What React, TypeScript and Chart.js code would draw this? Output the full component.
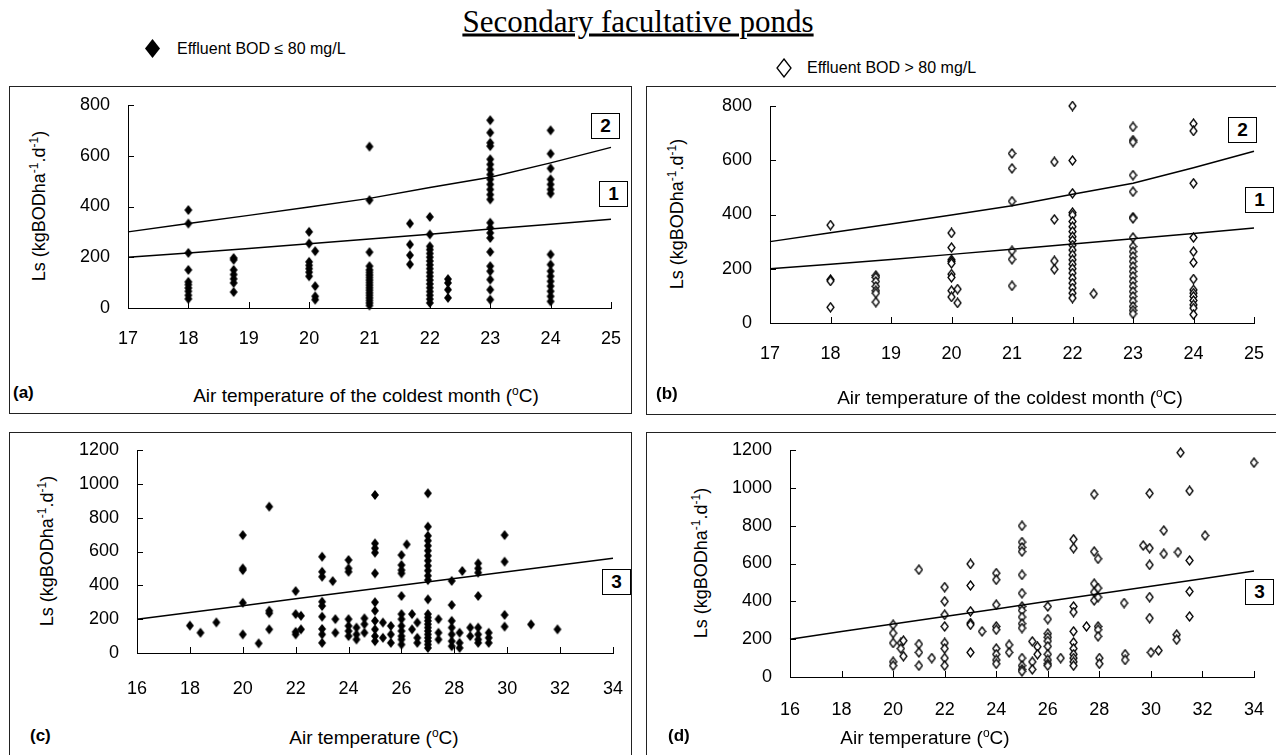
import React, { useEffect, useRef } from "react";
import { Chart, registerables } from "chart.js";
Chart.register(...registerables);

// ---------- design lines ----------
const coldTemps = [17, 18, 19, 20, 21, 22, 23, 24, 25];
const line1Ls = [200, 217, 234, 253, 272, 291, 311, 330, 350];
const line2Ls = [300, 333, 365, 398, 432, 475, 515, 572, 633];
const airTemps = [16, 18, 20, 22, 24, 26, 28, 30, 32, 34];
const line3Ls = [200, 240, 280, 320, 360, 400, 440, 480, 520, 560];

// ---------- (a) effluent BOD <= 80, coldest month ----------
const aTemps = [18, 18.75, 20, 20.1, 21, 21.67, 22, 22.3, 23, 24];
const aLs = [
  [386, 333, 217, 150, 103, 92, 79, 66, 50, 36],
  [197, 190, 150, 132, 115, 99, 63],
  [300, 254, 182, 168, 155, 141, 125],
  [224, 86, 46, 33],
  [636, 425, 220, 165, 150, 140, 130, 120, 110, 100, 90, 80, 70, 60, 50, 40, 30, 20, 10],
  [333, 250, 208, 172],
  [359, 290, 243, 230, 215, 200, 185, 170, 155, 140, 125, 110, 95, 80, 65, 50, 35, 20],
  [114, 99, 72, 40],
  [740, 691, 651, 638, 586, 566, 546, 526, 507, 487, 467, 447, 428, 336, 316, 296, 276, 221, 165, 145, 112, 72, 33],
  [700, 608, 550, 507, 487, 467, 451, 211, 171, 145, 125, 105, 86, 66, 46, 26],
];

// ---------- (b) effluent BOD > 80, coldest month ----------
const bTemps = [18, 18.75, 20, 20.1, 21, 21.7, 22, 22.35, 23, 24];
const bLs = [
  [361, 160, 155, 58],
  [175, 168, 153, 135, 119, 110, 77],
  [332, 278, 233, 227, 220, 180, 168, 119, 96],
  [125, 74],
  [625, 570, 449, 266, 235, 137],
  [594, 382, 229, 198],
  [800, 599, 478, 407, 398, 374, 355, 337, 318, 304, 287, 269, 251, 233, 217, 200, 184, 165, 147, 129, 110, 92],
  [108],
  [723, 674, 667, 545, 484, 390, 386, 315, 282, 263, 245, 227, 208, 190, 172, 153, 135, 116, 98, 80, 61, 47, 34],
  [735, 708, 515, 315, 263, 223, 162, 122, 110, 98, 83, 67, 55, 31],
];

// ---------- (c) effluent BOD <= 80, air temperature ----------
const cTemps = [18, 18.4, 19, 20, 20.6, 21, 22, 22.2, 23, 23.4, 23.5, 24, 24.3, 24.6, 25, 25.3, 25.6, 26, 26.2, 26.4, 26.6, 27, 27.4, 27.9, 28.2, 28.3, 28.6, 28.9, 29.3, 29.9, 30.9, 31.9];
const cLs = [
  [162], [120], [181],
  [697, 500, 490, 297, 110],
  [57],
  [865, 250, 235, 140],
  [366, 230, 125, 110],
  [220, 140],
  [569, 480, 451, 303, 278, 215, 142, 110, 60],
  [425],
  [200, 120],
  [550, 500, 480, 200, 160, 130, 100],
  [150, 110, 80],
  [205, 170, 120],
  [934, 648, 619, 593, 471, 300, 250, 190, 140, 100, 70],
  [180, 90],
  [160, 110, 60],
  [579, 520, 490, 471, 337, 230, 200, 160, 130, 100, 80, 50],
  [642],
  [230, 140],
  [180, 90, 60],
  [944, 747, 693, 664, 634, 605, 575, 546, 516, 487, 457, 431, 317, 230, 210, 190, 170, 150, 130, 110, 90, 70, 50, 30],
  [200, 120, 80],
  [426, 284, 190, 150, 110, 70, 40],
  [120, 60, 30],
  [485],
  [150, 100],
  [530, 500, 475, 337, 150, 110, 80, 60],
  [120, 90, 60],
  [697, 540, 225, 156],
  [169],
  [140],
];

// ---------- (d) effluent BOD > 80, air temperature ----------
const dTemps = [20, 20.3, 20.4, 21, 21.5, 22, 23, 23.45, 24, 24.5, 25, 25.4, 25.6, 26, 26.5, 27, 27.5, 27.8, 27.95, 28, 28.96, 29, 29.7, 29.95, 30, 30.3, 30.5, 31, 31.05, 31.15, 31.5, 32.1, 34];
const dLs = [
  [276, 232, 180, 80, 60],
  [180, 150],
  [192, 110],
  [567, 174, 130, 60],
  [100],
  [475, 400, 329, 267, 180, 150, 100, 60],
  [598, 484, 347, 285, 276, 130],
  [241],
  [549, 514, 382, 267, 250, 150, 120, 90, 70],
  [170, 130],
  [799, 713, 685, 663, 540, 443, 373, 352, 317, 282, 259, 100, 60, 40, 30],
  [188, 80, 40],
  [160, 120],
  [373, 306, 229, 210, 190, 162, 120, 90, 70, 60],
  [100],
  [728, 681, 373, 343, 241, 183, 150, 120, 100, 80, 60],
  [267],
  [966, 663, 493, 449, 405],
  [625, 470, 422, 267, 250, 215],
  [100, 70],
  [391],
  [120, 90],
  [695],
  [971, 681, 593, 422, 311],
  [130],
  [140],
  [774, 651],
  [224, 197],
  [660],
  [1186],
  [984, 616, 452, 320],
  [748],
  [1133],
];

const xTicksCold = [17, 18, 19, 20, 21, 22, 23, 24, 25];
const yTicksAB = [0, 200, 400, 600, 800];
const xTicksAir = [16, 18, 20, 22, 24, 26, 28, 30, 32, 34];
const yTicksCD = [0, 200, 400, 600, 800, 1000, 1200];

const SANS = "'Liberation Sans', Arial, sans-serif";

function toPoints(temps: number[], ls: number[][]) {
  return temps.flatMap((t, i) => ls[i].map((v) => ({ x: t, y: v })));
}

function diamond(w: number, h: number, filled: boolean) {
  const c = document.createElement("canvas");
  c.width = w + 2;
  c.height = h + 2;
  const g = c.getContext("2d")!;
  g.beginPath();
  g.moveTo((w + 2) / 2, 1);
  g.lineTo(w + 1, (h + 2) / 2);
  g.lineTo((w + 2) / 2, h + 1);
  g.lineTo(1, (h + 2) / 2);
  g.closePath();
  if (filled) {
    g.fillStyle = "#000";
    g.fill();
  } else {
    g.fillStyle = "#fff";
    g.fill();
    g.strokeStyle = "#000";
    g.lineWidth = 1.3;
    g.stroke();
  }
  return c;
}

const innerTicks = {
  id: "innerTicks",
  afterDraw(chart: any) {
    const { ctx, chartArea, scales } = chart;
    ctx.save();
    ctx.strokeStyle = "#000";
    ctx.lineWidth = 1;
    scales.x.ticks.forEach((t: any) => {
      const px = Math.round(scales.x.getPixelForValue(t.value)) + 0.5;
      ctx.beginPath();
      ctx.moveTo(px, chartArea.bottom);
      ctx.lineTo(px, chartArea.bottom - 6);
      ctx.stroke();
    });
    scales.y.ticks.forEach((t: any) => {
      const py = Math.round(scales.y.getPixelForValue(t.value)) + 0.5;
      ctx.beginPath();
      ctx.moveTo(chartArea.left, py);
      ctx.lineTo(chartArea.left + 6, py);
      ctx.stroke();
    });
    ctx.restore();
  },
};

type PanelProps = {
  plotLeft: number;
  plotTop: number;
  plotW: number;
  plotH: number;
  xPad: number;
  xTicks: number[];
  yTicks: number[];
  lines: { x: number[]; y: number[] }[];
  temps: number[];
  ls: number[][];
  filled: boolean;
};

const YW = 70;
const PT = 14;
const PR = 16;
const XH = 70;

function Panel(p: PanelProps) {
  const ref = useRef<HTMLCanvasElement>(null);
  useEffect(() => {
    const marker = p.filled ? diamond(8, 10, true) : diamond(7, 9, false);
    const lineSets = p.lines.map((l) => ({
      data: l.x.map((x, i) => ({ x, y: l.y[i] })),
      showLine: true,
      borderColor: "#000",
      borderWidth: 1.5,
      pointRadius: 0,
      clip: false as any,
    }));
    const chart = new Chart(ref.current!, {
      type: "scatter",
      data: {
        datasets: [
          ...lineSets,
          {
            data: toPoints(p.temps, p.ls),
            pointStyle: marker as any,
            pointRadius: 5,
            clip: false as any,
          },
        ] as any,
      },
      options: {
        animation: false,
        responsive: false,
        events: [],
        layout: { padding: { left: 0, top: PT, right: PR, bottom: 0 } },
        plugins: { legend: { display: false }, tooltip: { enabled: false } },
        scales: {
          x: {
            type: "linear",
            min: p.xTicks[0],
            max: p.xTicks[p.xTicks.length - 1],
            afterBuildTicks: (s: any) => {
              s.ticks = p.xTicks.map((v) => ({ value: v }));
            },
            afterFit: (s: any) => {
              s.height = XH;
              s.paddingLeft = 0;
              s.paddingRight = 0;
            },
            grid: { display: true, drawOnChartArea: false, drawTicks: false },
            border: { display: true, color: "#000", width: 1 },
            ticks: {
              autoSkip: false,
              maxRotation: 0,
              padding: p.xPad,
              color: "#000",
              font: { family: SANS, size: 18 },
              callback: (v: any) => String(v),
            },
          },
          y: {
            type: "linear",
            min: p.yTicks[0],
            max: p.yTicks[p.yTicks.length - 1],
            afterBuildTicks: (s: any) => {
              s.ticks = p.yTicks.map((v) => ({ value: v }));
            },
            afterFit: (s: any) => {
              s.width = YW;
              s.paddingTop = 0;
              s.paddingBottom = 0;
            },
            grid: { display: true, drawOnChartArea: false, drawTicks: false },
            border: { display: true, color: "#000", width: 1 },
            ticks: {
              padding: 18,
              color: "#000",
              font: { family: SANS, size: 18 },
              callback: (v: any) => String(v),
            },
          },
        },
      } as any,
      plugins: [innerTicks],
    });
    return () => chart.destroy();
  }, []);
  return (
    <canvas
      ref={ref}
      width={p.plotW + YW + PR}
      height={p.plotH + PT + XH}
      style={{ position: "absolute", left: p.plotLeft - YW, top: p.plotTop - PT }}
    />
  );
}

function Txt(props: { x: number; y: number; size: number; bold?: boolean; children: any; anchor?: "left" | "center" }) {
  const tx = props.anchor === "left" ? "0" : "-50%";
  return (
    <div
      style={{
        position: "absolute",
        left: props.x,
        top: props.y,
        transform: `translate(${tx}, -50%)`,
        fontFamily: SANS,
        fontSize: props.size,
        fontWeight: props.bold ? "bold" : "normal",
        whiteSpace: "nowrap",
        lineHeight: 1,
        color: "#000",
      }}
    >
      {props.children}
    </div>
  );
}

function YTitle(props: { x: number; y: number }) {
  return (
    <div
      style={{
        position: "absolute",
        left: props.x,
        top: props.y,
        transform: "translate(-50%, -50%) rotate(-90deg)",
        fontFamily: SANS,
        fontSize: 18,
        whiteSpace: "nowrap",
        lineHeight: 1,
      }}
    >
      Ls (kgBODha<sup style={{ fontSize: 12 }}>-1</sup>.d<sup style={{ fontSize: 12 }}>-1</sup>)
    </div>
  );
}

function NumBox(props: { x: number; y: number; n: string }) {
  return (
    <div
      style={{
        position: "absolute",
        left: props.x - 14,
        top: props.y - 13,
        width: 27,
        height: 24,
        border: "1.5px solid #000",
        background: "#fff",
        fontFamily: SANS,
        fontWeight: "bold",
        fontSize: 19,
        lineHeight: "24px",
        textAlign: "center",
      }}
    >
      {props.n}
    </div>
  );
}

function Frame(props: { l: number; t: number; w: number; h: number }) {
  return (
    <div
      style={{
        position: "absolute",
        left: props.l,
        top: props.t,
        width: props.w,
        height: props.h,
        border: "1.3px solid #222",
        boxSizing: "border-box",
      }}
    />
  );
}

const degC = (
  <>
    (<sup style={{ fontSize: 12 }}>o</sup>C)
  </>
);

export default function App() {
  const linesAB = [
    { x: coldTemps, y: line1Ls },
    { x: coldTemps, y: line2Ls },
  ];
  const linesCD = [{ x: airTemps, y: line3Ls }];
  return (
    <div
      style={{
        position: "fixed",
        left: 0,
        top: 0,
        width: 1276,
        height: 755,
        background: "#fff",
        overflow: "hidden",
      }}
    >
      <div
        style={{
          position: "absolute",
          left: 638,
          top: 21,
          transform: "translate(-50%, -50%)",
          fontFamily: "'Liberation Serif', 'Times New Roman', serif",
          fontSize: 31,
          textDecoration: "underline",
          whiteSpace: "nowrap",
          lineHeight: 1,
        }}
      >
        Secondary facultative ponds
      </div>

      <svg style={{ position: "absolute", left: 145, top: 39 }} width="15" height="19">
        <polygon points="7.5,0 15,9.5 7.5,19 0,9.5" fill="#000" />
      </svg>
      <Txt x={177} y={49} size={16} anchor="left">
        Effluent BOD ≤ 80 mg/L
      </Txt>
      <svg style={{ position: "absolute", left: 776, top: 58 }} width="16" height="20">
        <polygon points="8,1 15,10 8,19 1,10" fill="#fff" stroke="#000" strokeWidth="1.3" />
      </svg>
      <Txt x={807} y={68} size={16} anchor="left">
        Effluent BOD &gt; 80 mg/L
      </Txt>

      <Frame l={9} t={86} w={623} h={328} />
      <Frame l={646} t={86} w={640} h={329} />
      <Frame l={9} t={432} w={623} h={400} />
      <Frame l={646} t={432} w={640} h={400} />

      <Panel plotLeft={128} plotTop={105} plotW={483} plotH={203} xPad={20} xTicks={xTicksCold} yTicks={yTicksAB} lines={linesAB} temps={aTemps} ls={aLs} filled={true} />
      <Panel plotLeft={770} plotTop={106} plotW={484} plotH={217} xPad={20} xTicks={xTicksCold} yTicks={yTicksAB} lines={linesAB} temps={bTemps} ls={bLs} filled={false} />
      <Panel plotLeft={137} plotTop={450} plotW={476} plotH={203} xPad={25} xTicks={xTicksAir} yTicks={yTicksCD} lines={linesCD} temps={cTemps} ls={cLs} filled={true} />
      <Panel plotLeft={790} plotTop={450} plotW={464} plotH={227} xPad={22} xTicks={xTicksAir} yTicks={yTicksCD} lines={linesCD} temps={dTemps} ls={dLs} filled={false} />

      <NumBox x={605} y={126} n="2" />
      <NumBox x={613} y={194} n="1" />
      <NumBox x={1242} y={130} n="2" />
      <NumBox x={1259} y={200} n="1" />
      <NumBox x={616} y={582} n="3" />
      <NumBox x={1259} y={592} n="3" />

      <YTitle x={38} y={206} />
      <YTitle x={676} y={214} />
      <YTitle x={46} y={551} />
      <YTitle x={700} y={563} />

      <Txt x={366} y={395} size={19}>
        Air temperature of the coldest month {degC}
      </Txt>
      <Txt x={1010} y={397} size={19}>
        Air temperature of the coldest month {degC}
      </Txt>
      <Txt x={374} y={737} size={19}>
        Air temperature {degC}
      </Txt>
      <Txt x={925} y={737} size={19}>
        Air temperature {degC}
      </Txt>

      <Txt x={13} y={392} size={17} bold anchor="left">(a)</Txt>
      <Txt x={656} y={393} size={17} bold anchor="left">(b)</Txt>
      <Txt x={30} y={735} size={17} bold anchor="left">(c)</Txt>
      <Txt x={668} y={735} size={17} bold anchor="left">(d)</Txt>
    </div>
  );
}
